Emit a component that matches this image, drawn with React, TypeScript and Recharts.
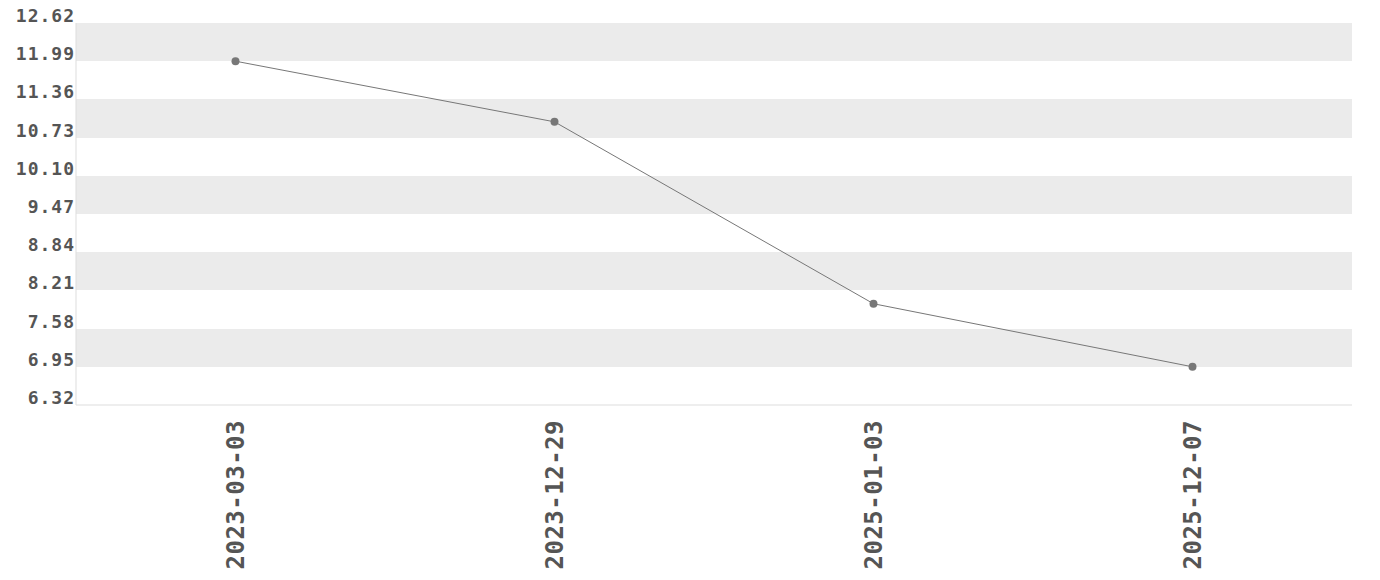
import { LineChart, Line, XAxis, YAxis, CartesianGrid } from "recharts";

const dates = ["2023-03-03", "2023-12-29", "2025-01-03", "2025-12-07"];
const values = [11.99, 10.99, 7.99, 6.95];
const yTicks = [6.32, 6.95, 7.58, 8.21, 8.84, 9.47, 10.1, 10.73, 11.36, 11.99, 12.62];

const data = dates.map((d, i) => ({ date: d, value: values[i] }));

const FONT = "'DejaVu Sans Mono', monospace";
const LABEL = "#555555";
const BORDER = "#dddddd";

function YTick({ x, y, payload }: any) {
  return (
    <text
      x={x + 1}
      y={y - 1}
      textAnchor="end"
      fill={LABEL}
      fontFamily={FONT}
      fontWeight="bold"
      fontSize={18}
      letterSpacing={1}
      style={{ fontVariantNumeric: "slashed-zero" }}
    >
      {Number(payload.value).toFixed(2)}
    </text>
  );
}

function XTick({ x, y, payload }: any) {
  return (
    <text
      x={x}
      y={y + 15}
      dy="0.36em"
      textAnchor="end"
      transform={`rotate(-90, ${x}, ${y + 15})`}
      fill={LABEL}
      fontFamily={FONT}
      fontWeight="bold"
      fontSize={24}
      letterSpacing={0.5}
      style={{ fontVariantNumeric: "slashed-zero" }}
    >
      {payload.value}
    </text>
  );
}

export default function App() {
  return (
    <div style={{ margin: "-8px 0 0 -8px", width: 1380, height: 580, background: "#fff" }}>
      <LineChart width={1380} height={580} data={data} margin={{ top: 23, right: 28, bottom: 0, left: 0 }}>
        <CartesianGrid vertical={false} stroke="none" horizontalFill={["#ebebeb", "#ffffff"]} />
        <XAxis
          dataKey="date"
          scale="band"
          height={175}
          tickLine={false}
          tickSize={0}
          tickMargin={0}
          axisLine={{ stroke: BORDER }}
          tick={<XTick />}
          interval={0}
        />
        <XAxis xAxisId="top" dataKey="date" scale="band" orientation="top" height={0} tick={false} tickLine={false} axisLine={{ stroke: BORDER }} />
        <YAxis
          domain={[6.32, 12.62]}
          ticks={yTicks}
          width={76}
          tickLine={false}
          tickSize={0}
          tickMargin={2}
          axisLine={{ stroke: BORDER }}
          tick={<YTick />}
          interval={0}
        />
        <YAxis yAxisId="right" orientation="right" width={0} domain={[6.32, 12.62]} tick={false} tickLine={false} axisLine={{ stroke: BORDER }} />
        <Line
          dataKey="value"
          stroke="#777777"
          strokeWidth={1}
          dot={{ r: 4, fill: "#777777", stroke: "none" }}
          activeDot={false}
          isAnimationActive={false}
        />
      </LineChart>
    </div>
  );
}
